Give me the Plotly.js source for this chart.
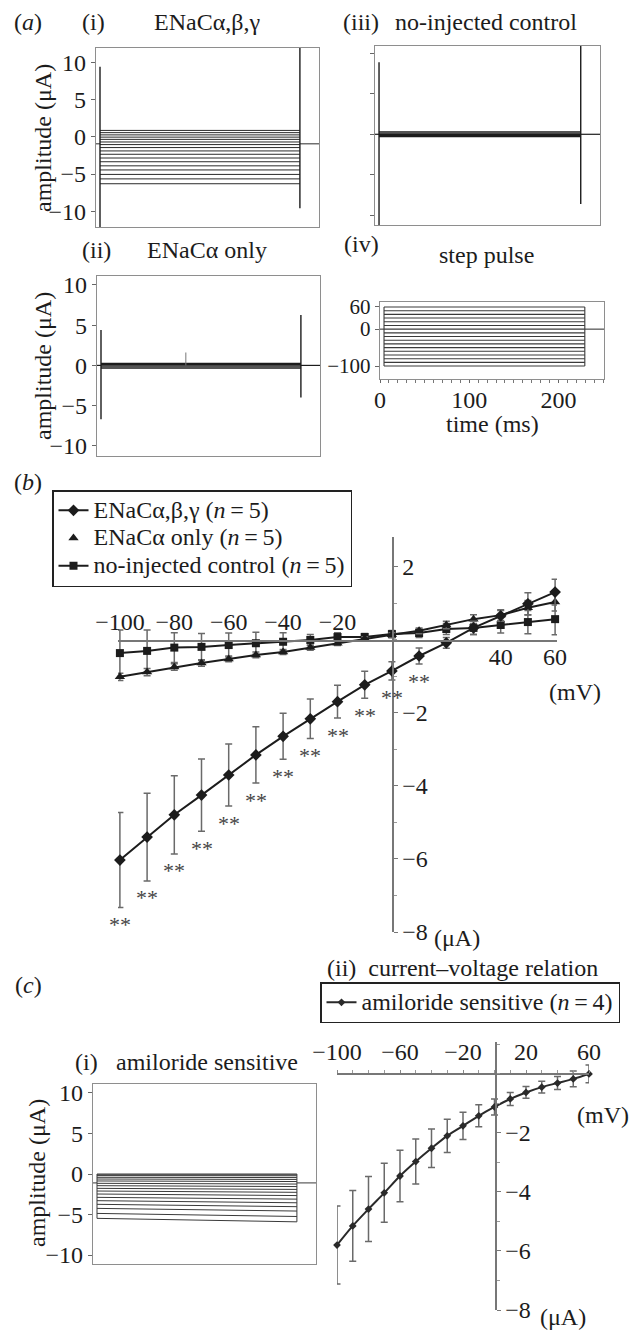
<!DOCTYPE html>
<html><head><meta charset="utf-8">
<script src="https://cdn.plot.ly/plotly-3.0.1.min.js"></script>
<style>html,body{margin:0;padding:0;background:#fff}</style>
</head><body><div id="chart" style="width:638px;height:1332px"></div>
<script>
// ================= DATA =================
// step protocol (mV) and timing (ms)
const stepVoltages = [-100,-90,-80,-70,-60,-50,-40,-30,-20,-10,0,10,20,30,40,50,60];
const pulseWindow = [4.5, 229.5];
const recordWindow = [0, 251];
const holdingVoltage = 0;

// (a)(i) ENaC alpha,beta,gamma current traces (uA)
const abgTraceLevels = [-6.3,-5.65,-5.05,-4.45,-3.9,-3.35,-2.85,-2.35,-1.9,-1.45,-1.05,-0.7,-0.35,-0.05,0.25,0.55,0.85];
const abgHolding = -0.95;
const abgOnSpike = [9.4, -12.5];
const abgOffSpike = [12.5, -9.6];

// (a)(ii) ENaC alpha only
const alphaTraceLevels = [-0.35,-0.2,-0.05,0.1,0.25];
const alphaHolding = 0;
const alphaOnSpike = [4.4, -6.7];
const alphaOffSpike = [6.25, -4.0];
const alphaArtifactTime = [100];
const alphaArtifactAmp = [1.6];

// (a)(iii) no-injected control
const ctrlTraceLevels = [-0.3,-0.15,0,0.15,0.3];
const ctrlHolding = 0;
const ctrlOnSpike = [8.9, -11.5];
const ctrlOffSpike = [11.5, -8.6];

// (b) current-voltage relations (uA), mean and s.e.
const abgMean  = [-6.03,-5.40,-4.79,-4.25,-3.70,-3.15,-2.64,-2.16,-1.69,-1.23,-0.85,-0.44,-0.08,0.33,0.66,0.99,1.31];
const abgSE    = [1.30,1.20,1.07,0.99,0.85,0.77,0.63,0.54,0.45,0.37,0.25,0.22,0.15,0.18,0.15,0.30,0.35];
const alphaMean= [-1.01,-0.88,-0.74,-0.63,-0.52,-0.41,-0.33,-0.21,-0.09,0.03,0.14,0.25,0.41,0.57,0.68,0.88,1.04];
const alphaSE  = [0.10,0.10,0.09,0.09,0.08,0.08,0.07,0.07,0.06,0.06,0.06,0.08,0.10,0.12,0.15,0.20,0.25];
const ctrlMean = [-0.36,-0.30,-0.21,-0.19,-0.14,-0.09,-0.05,0.00,0.08,0.08,0.16,0.19,0.30,0.33,0.41,0.49,0.57];
const ctrlSE   = [0.63,0.57,0.41,0.37,0.33,0.30,0.25,0.15,0.12,0.10,0.10,0.12,0.15,0.18,0.22,0.32,0.43];
const significance = ['**','**','**','**','**','**','**','**','**','**','**','**','','','','',''];

// (c)(i) amiloride-sensitive current traces (uA): level at pulse start / end
const amilTraceStart = [0,-0.1,-0.2,-0.41,-0.62,-0.86,-1.15,-1.44,-1.77,-2.1,-2.47,-2.88,-3.29,-3.74,-4.24,-4.86,-5.47];
const amilTraceEnd   = [0,-0.1,-0.22,-0.44,-0.67,-0.93,-1.24,-1.55,-1.9,-2.26,-2.66,-3.1,-3.55,-4.03,-4.57,-5.24,-5.9];
const amilHolding = -1.1;

// (c)(ii) amiloride-sensitive I-V (n=4)
const amilMean = [-5.80,-5.15,-4.58,-4.03,-3.46,-2.97,-2.52,-2.10,-1.76,-1.42,-1.12,-0.85,-0.63,-0.45,-0.31,-0.17,0.00];
const amilSE   = [1.32,1.20,1.10,1.00,0.87,0.76,0.65,0.56,0.46,0.37,0.27,0.22,0.20,0.20,0.22,0.27,0.30];

// ================= BUILD =================
const W = 638, H = 1332;
const FONT = 'Liberation Serif, Times New Roman, Times, serif';
const INK = '#1c1c1c';
const BOXC = '#8e8e8e';
const FS = 24;
const fx = p => p / W;
const fy = p => 1 - p / H;
const hdom = (a, b) => [fx(a), fx(b)];
const vdom = (top, bot) => [fy(bot), fy(top)];
const minus = v => String(v).replace('-', '\u2212');
const big = s => '<span style="font-size:24px">' + s + '</span>';

function family(startLv, endLv, hold, withEdges) {
  const x = [], y = [];
  startLv.forEach((v, i) => { x.push(pulseWindow[0], pulseWindow[1], null); y.push(v, endLv[i], null); });
  x.push(recordWindow[0], pulseWindow[0], null, pulseWindow[1], recordWindow[1], null);
  y.push(hold, hold, null, hold, hold, null);
  if (withEdges) {
    x.push(pulseWindow[0], pulseWindow[0], null, pulseWindow[1], pulseWindow[1]);
    y.push(Math.min(...startLv, hold), Math.max(...startLv, hold), null, Math.min(...endLv, hold), Math.max(...endLv, hold));
  }
  return {x, y};
}
function spikes(on, off) {
  return {x: [pulseWindow[0], pulseWindow[0], null, pulseWindow[1], pulseWindow[1]],
          y: [on[0], on[1], null, off[0], off[1]]};
}
function lineTrace(d, xa, ya, width, color) {
  return {x: d.x, y: d.y, xaxis: xa, yaxis: ya, mode: 'lines', type: 'scatter',
          line: {color: color || INK, width: width}, showlegend: false, hoverinfo: 'skip'};
}

const traces = [];
// (a)(i)
traces.push(lineTrace(family(abgTraceLevels, abgTraceLevels, abgHolding, false), 'x', 'y', 1, '#2a2a2a'));
traces.push(lineTrace(spikes(abgOnSpike, abgOffSpike), 'x', 'y', 1.4));
// (a)(iii)
traces.push(lineTrace(family(ctrlTraceLevels, ctrlTraceLevels, ctrlHolding, false), 'x2', 'y2', 1.2));
traces.push(lineTrace(spikes(ctrlOnSpike, ctrlOffSpike), 'x2', 'y2', 1.4));
// (a)(ii)
traces.push(lineTrace(family(alphaTraceLevels, alphaTraceLevels, alphaHolding, false), 'x3', 'y3', 1.2));
traces.push(lineTrace(spikes(alphaOnSpike, alphaOffSpike), 'x3', 'y3', 1.4));
traces.push(lineTrace({x: [alphaArtifactTime[0], alphaArtifactTime[0]], y: [0, alphaArtifactAmp[0]]}, 'x3', 'y3', 1, '#777'));
// (a)(iv)
traces.push(lineTrace(family(stepVoltages, stepVoltages, holdingVoltage, true), 'x4', 'y4', 1.1, '#3a3a3a'));

// (b)
const errStyle = arr => ({type: 'data', array: arr, visible: true, color: '#6a6a6a', thickness: 1.5, width: 3.5});
traces.push({x: stepVoltages, y: ctrlMean, xaxis: 'x5', yaxis: 'y5', type: 'scatter', mode: 'lines+markers',
  name: big('no-injected control (<i>n</i>\u2009=\u20095)'), legend: 'legend', legendrank: 3,
  line: {color: INK, width: 2}, marker: {symbol: 'square', size: 8, color: INK},
  error_y: errStyle(ctrlSE), cliponaxis: false, hoverinfo: 'skip'});
traces.push({x: stepVoltages, y: alphaMean, xaxis: 'x5', yaxis: 'y5', type: 'scatter', mode: 'lines',
  showlegend: false, line: {color: INK, width: 2}, cliponaxis: false, hoverinfo: 'skip'});
traces.push({x: stepVoltages, y: alphaMean, xaxis: 'x5', yaxis: 'y5', type: 'scatter', mode: 'markers',
  name: big('ENaCα only (<i>n</i>\u2009=\u20095)'), legend: 'legend', legendrank: 2,
  marker: {symbol: 'triangle-up', size: 9, color: INK},
  error_y: errStyle(alphaSE), cliponaxis: false, hoverinfo: 'skip'});
traces.push({x: stepVoltages, y: abgMean, xaxis: 'x5', yaxis: 'y5', type: 'scatter', mode: 'lines+markers',
  name: big('ENaCα,β,γ (<i>n</i>\u2009=\u20095)'), legend: 'legend', legendrank: 1,
  line: {color: INK, width: 2}, marker: {symbol: 'diamond', size: 9, color: INK},
  error_y: errStyle(abgSE), cliponaxis: false, hoverinfo: 'skip'});
traces.push({x: [null], y: [null], xaxis: 'x6', yaxis: 'y5', type: 'scatter', mode: 'markers', showlegend: false, hoverinfo: 'skip'});

// (c)(i)
traces.push(lineTrace(family(amilTraceStart, amilTraceEnd, amilHolding, true), 'x7', 'y7', 1, '#3a3a3a'));
// (c)(ii)
traces.push({x: stepVoltages, y: amilMean, xaxis: 'x8', yaxis: 'y8', type: 'scatter', mode: 'lines+markers',
  name: big('amiloride sensitive (<i>n</i>\u2009=\u20094)'), legend: 'legend2',
  line: {color: '#2a2a2a', width: 2, shape: 'spline'}, marker: {symbol: 'diamond', size: 6, color: '#2a2a2a'},
  error_y: errStyle(amilSE), cliponaxis: false, hoverinfo: 'skip'});

// ---- axes ----
const tickFont = {family: FONT, size: FS, color: INK};
const boxX = (dom, anchor) => ({domain: dom, anchor: anchor, range: recordWindow.slice(), showline: true, mirror: true,
  linecolor: BOXC, linewidth: 1.2, showgrid: false, zeroline: false, ticks: '', showticklabels: false, fixedrange: true});
const boxY = (dom, anchor, range, labels) => ({domain: dom, anchor: anchor, range: range, showline: true, mirror: true,
  linecolor: BOXC, linewidth: 1.2, showgrid: false, zeroline: false, ticks: 'outside', ticklen: 4, tickcolor: '#666',
  tickmode: 'array', tickvals: [10, 5, 0, -5, -10], ticktext: [10, 5, 0, -5, -10].map(minus),
  showticklabels: labels, tickfont: tickFont, fixedrange: true});

const legendBase = {bordercolor: '#222', borderwidth: 1.5, bgcolor: 'rgba(255,255,255,0)',
  font: {family: FONT, size: 19, color: INK}, itemclick: false, itemdoubleclick: false, traceorder: 'normal'};

const layout = {
  width: W, height: H, margin: {l: 0, r: 0, t: 0, b: 0}, paper_bgcolor: '#fff', plot_bgcolor: 'rgba(0,0,0,0)',
  showlegend: true, font: {family: FONT, size: FS, color: INK},
  xaxis: boxX(hdom(96, 319), 'y'),
  yaxis: boxY(vdom(48, 227), 'x', [-12.1, 11.9], true),
  xaxis2: boxX(hdom(375, 600), 'y2'),
  yaxis2: boxY(vdom(46, 225), 'x2', [-11.2, 10.9], false),
  xaxis3: boxX(hdom(97, 320), 'y3'),
  yaxis3: boxY(vdom(276, 456), 'x3', [-11.25, 11.1], true),
  xaxis4: Object.assign(boxX(hdom(380, 604), 'y4'), {ticks: 'outside', ticklen: 3, tickcolor: '#666',
    tickmode: 'array', tickvals: [0, 100, 200], showticklabels: true, tickfont: tickFont, ticklabelstandoff: -4,
    minor: {tickmode: 'linear', tick0: 0, dtick: 10, ticks: 'outside', ticklen: 3, tickcolor: '#777'}}),
  yaxis4: Object.assign(boxY(vdom(302, 379), 'x4', [-135, 73.5], true), {tickvals: [60, 0, -100], ticktext: ['60', '0', '\u2212100'],
    tickfont: {family: FONT, size: 21, color: INK}}),
  // (b)
  xaxis5: {domain: hdom(118, 557), range: [-100.7, 60.7], anchor: 'free', position: fy(640), side: 'top',
    showline: true, linecolor: '#777', linewidth: 1.5, showgrid: false, zeroline: false, ticks: '',
    tickmode: 'array', tickvals: [-100, -80, -60, -40, -20], ticktext: ['\u2212100', '\u221280', '\u221260', '\u221240', '\u221220'],
    tickfont: tickFont, fixedrange: true},
  xaxis6: {overlaying: 'x5', range: [-100.7, 60.7], anchor: 'free', position: fy(640), side: 'bottom',
    showline: false, showgrid: false, zeroline: false, ticks: '', tickmode: 'array', tickvals: [40, 60],
    tickfont: tickFont, fixedrange: true},
  yaxis5: {domain: vdom(537, 932), range: [-8, 2.82], anchor: 'free', position: fx(392), side: 'right',
    showline: true, linecolor: '#777', linewidth: 1.5, showgrid: false, zeroline: false,
    ticks: 'outside', ticklen: 4, tickcolor: '#777', tickmode: 'array', tickvals: [2, -2, -4, -6, -8],
    ticktext: ['2', '\u22122', '\u22124', '\u22126', '\u22128'], tickfont: tickFont,
    minor: {tickmode: 'linear', tick0: 0, dtick: 1, ticks: 'outside', ticklen: 3, tickcolor: '#999'}, fixedrange: true},
  // (c)(i)
  xaxis7: boxX(hdom(93, 316), 'y7'),
  yaxis7: boxY(vdom(1084, 1264), 'x7', [-11.1, 11.1], true),
  // (c)(ii)
  xaxis8: {domain: hdom(337, 589), range: [-100, 60], anchor: 'free', position: fy(1073), side: 'top',
    showline: true, linecolor: '#777', linewidth: 1.5, showgrid: false, zeroline: false,
    ticks: 'outside', ticklen: 3, tickcolor: '#888', tickmode: 'array', tickvals: [-100, -60, -20, 20, 60],
    ticktext: ['\u2212100', '\u221260', '\u221220', '20', '60'], tickfont: tickFont,
    minor: {tickmode: 'linear', tick0: 0, dtick: 10, ticks: 'outside', ticklen: 3, tickcolor: '#999'}, fixedrange: true},
  yaxis8: {domain: vdom(1042, 1310), range: [-8, 1.08], anchor: 'free', position: fx(495), side: 'right',
    showline: true, linecolor: '#777', linewidth: 1.5, showgrid: false, zeroline: false,
    ticks: 'outside', ticklen: 4, tickcolor: '#777', tickmode: 'array', tickvals: [-2, -4, -6, -8],
    ticktext: ['\u22122', '\u22124', '\u22126', '\u22128'], tickfont: tickFont,
    minor: {tickmode: 'linear', tick0: 0, dtick: 1, ticks: 'outside', ticklen: 3, tickcolor: '#999'}, fixedrange: true},
  legend: Object.assign({x: fx(52), y: fy(490), xanchor: 'left', yanchor: 'top'}, legendBase),
  legend2: Object.assign({x: fx(320), y: fy(1023), xanchor: 'left', yanchor: 'bottom'}, legendBase),
  annotations: []
};

const ann = (text, x, y, extra) => Object.assign({text: text, x: fx(x), y: fy(y), xref: 'paper', yref: 'paper',
  showarrow: false, xanchor: 'center', yanchor: 'middle', font: {family: FONT, size: FS, color: INK}}, extra || {});
layout.annotations.push(
  ann('(<i>a</i>)', 28, 22), ann('(i)', 93, 22), ann('ENaCα,β,γ', 207, 22),
  ann('(iii)', 361, 22), ann('no-injected control', 486, 22),
  ann('(ii)', 96, 250), ann('ENaCα only', 207, 250),
  ann('(iv)', 361, 244), ann('step pulse', 486, 255),
  ann('amplitude (μA)', 43, 138, {textangle: -90}), ann('amplitude (μA)', 43, 366, {textangle: -90}),
  ann('time (ms)', 492, 424),
  ann('(<i>b</i>)', 28, 482), ann('(mV)', 575, 692), ann('(μA)', 457, 938),
  ann('(<i>c</i>)', 28, 985), ann('(ii)  current–voltage relation', 462, 968),
  ann('(i)', 86, 1062), ann('amiloride sensitive', 207, 1062),
  ann('amplitude (μA)', 37, 1173, {textangle: -90}),
  ann('(mV)', 603, 1115), ann('(μA)', 563, 1317)
);
significance.forEach((s, i) => {
  if (!s) return;
  layout.annotations.push({text: s, x: stepVoltages[i], y: abgMean[i] - abgSE[i], xref: 'x5', yref: 'y5',
    showarrow: false, xanchor: 'center', yanchor: 'middle', yshift: -17,
    font: {family: FONT, size: 22, color: '#444'}});
});

Plotly.newPlot('chart', traces, layout, {displayModeBar: false, staticPlot: true});
</script></body></html>
